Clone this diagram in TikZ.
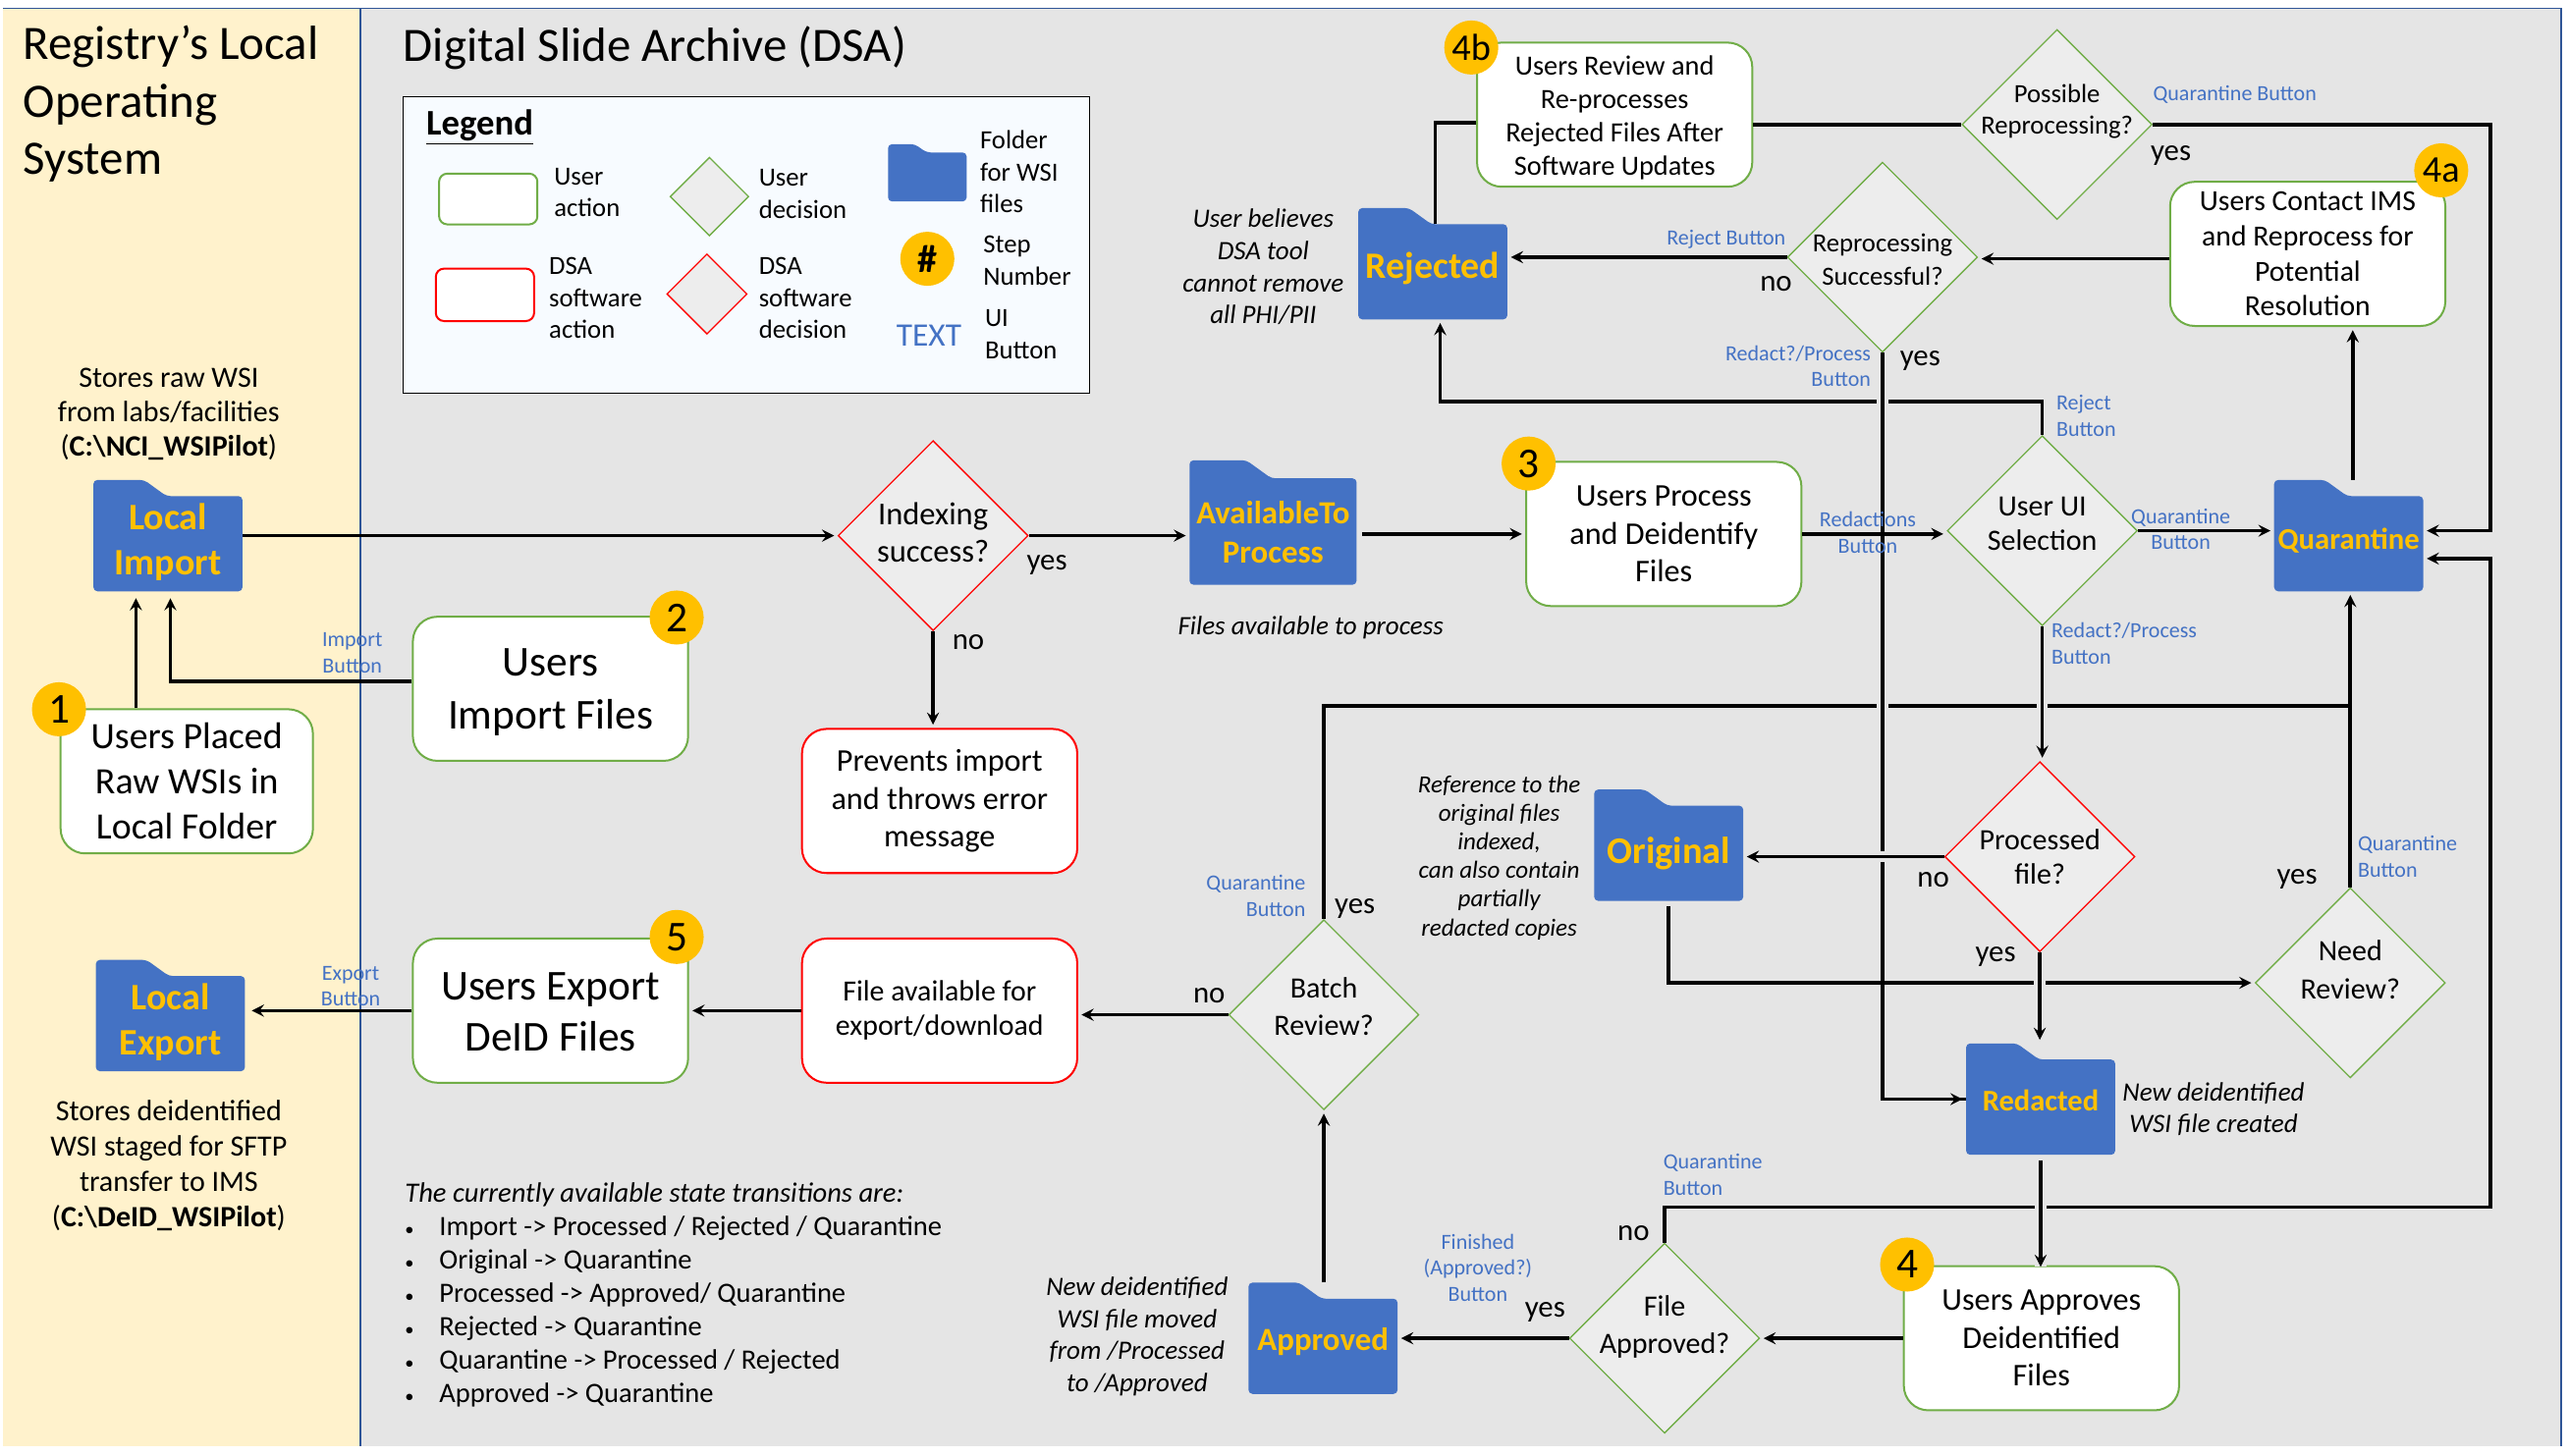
\documentclass[tikz,border=0pt]{standalone}
\usepackage{fontspec}
\setmainfont{Carlito}
\usetikzlibrary{arrows,calc,shapes.geometric}
\definecolor{panelcream}{HTML}{FFF2CC}
\definecolor{panelgrey}{HTML}{E5E5E5}
\definecolor{panelline}{HTML}{2F5597}
\definecolor{folderblue}{HTML}{4472C4}
\definecolor{stepyellow}{HTML}{FFC000}
\definecolor{useredge}{HTML}{70AD47}
\definecolor{diamondfill}{HTML}{EDEDED}
\definecolor{legendfill}{HTML}{F7FBFF}
\newcommand{\fs}[2]{\fontsize{#1}{#2}\selectfont}
\tikzset{
  flow/.style={line width=2.2pt,-stealth,shorten >=2pt},
  plainflow/.style={line width=2.2pt},
  bridge/.style={preaction={draw,-,panelgrey,line width=7pt}},
  useract/.style={draw=useredge,line width=1.2pt,fill=white,rounded corners=15pt,minimum width=168pt,minimum height=88pt,inner sep=0pt,align=center,font=\fs{19.3}{23}},
  dsaact/.style={useract,draw=red},
  userdec/.style={diamond,aspect=1,draw=useredge,line width=.8pt,fill=diamondfill,minimum width=116pt,minimum height=116pt,inner sep=0pt},
  dsadec/.style={userdec,draw=red},
  dectext/.style={font=\fs{18}{23},align=center},
  stepnum/.style={circle,fill=stepyellow,minimum size=33pt,inner sep=0pt,font=\fs{26}{26}},
  btn/.style={text=folderblue,font=\fs{13.2}{16},align=center,inner sep=0pt},
  side/.style={font=\itshape\fs{16.2}{19.5},align=center,inner sep=0pt},
  plaintxt/.style={font=\fs{18}{21},align=center,inner sep=0pt},
  legtxt/.style={font=\fs{16}{19.5},align=left,anchor=west,inner sep=0pt},
  yn/.style={font=\fs{18.5}{20},inner sep=0pt},
  foldertxt/.style={align=center,text=stepyellow,inner sep=0pt},
  folder/.style={minimum width=91pt,minimum height=68pt,inner sep=0pt,
    path picture={
      \coordinate (fa) at (path picture bounding box.north west);
      \coordinate (fb) at (path picture bounding box.south east);
      \coordinate (fc) at ($(fa)!.145!(fa|-fb)$);
      \fill[folderblue,rounded corners=2.5pt] (fa) -- ($(fa)!.34!(fb|-fa)$) -- ($(fc)!.49!(fc-|fb)$) -- (fc-|fb) -- (fb) -- (fa|-fb) -- cycle;
    }},
}
\begin{document}
\begin{tikzpicture}[x=1pt,y=-1pt]
    \useasboundingbox (0,0) rectangle (1568,888.3);
    % panels
    \fill[white] (0,0) rectangle (1568,888.3);
    \fill[panelcream] (2,5) rectangle (220,883);
    \fill[panelgrey] (220,5) rectangle (1563,883);
    \draw[panelline,line width=1pt] (2,5) -- (1563,5) -- (1563,883);
    \draw[panelline,line width=1pt] (220,5) -- (220,883);
    % legend
    \node[draw=black,line width=1pt,fill=legendfill,minimum width=419pt,minimum height=181pt,inner sep=0pt] (legendbox) at (455.5,149.5) {};
    \node[useract,minimum width=60pt,minimum height=31pt,rounded corners=5pt] (leguser) at (298,121.5) {};
    \node[dsaact,minimum width=60pt,minimum height=32pt,rounded corners=5pt] (legdsa) at (296,180) {};
    \node[userdec,minimum width=48pt,minimum height=48pt] (legudec) at (433,120) {};
    \node[dsadec,minimum width=49pt,minimum height=49pt] (legddec) at (431.5,179.5) {};
    \node[folder,minimum width=48pt,minimum height=35pt] (legfolder) at (566,105.5) {};
    \node[stepnum,font=\bfseries\fs{24}{24}] (legstep) at (566,158) {\#};
    % folders
    \node[folder,label={[foldertxt,yshift=-4pt,font=\bfseries\fs{22.8}{28}]center:{Local\\Import}}] (localimport) at (102.5,327) {};
    \node[folder,label={[foldertxt,yshift=-4pt,font=\bfseries\fs{22.8}{28}]center:{Local\\Export}}] (localexport) at (104,620) {};
    \node[folder,minimum width=102pt,minimum height=76pt,label={[foldertxt,yshift=-6pt,font=\bfseries\fs{19.7}{24}]center:{AvailableTo\\Process}}] (available) at (777,319) {};
    \node[folder,label={[foldertxt,yshift=-3pt,font=\bfseries\fs{22.7}{25}]center:{Rejected}}] (rejected) at (874.5,161) {};
    \node[folder,label={[foldertxt,yshift=-3pt,font=\bfseries\fs{18.4}{21}]center:{Quarantine}}] (quarantine) at (1433.5,327) {};
    \node[folder,label={[foldertxt,yshift=-5pt,font=\bfseries\fs{23}{25}]center:{Original}}] (original) at (1018.5,516) {};
    \node[folder,label={[foldertxt,yshift=-1pt,font=\bfseries\fs{18.3}{21}]center:{Redacted}}] (redacted) at (1245.5,671) {};
    \node[folder,label={[foldertxt,yshift=-2pt,font=\bfseries\fs{19.7}{21}]center:{Approved}}] (approved) at (807.5,817) {};
    % action boxes
    \node[useract,minimum width=154pt,font=\fs{22.7}{27.5}] (placed) at (114,477) {Users Placed\\Raw WSIs in\\Local Folder};
    \node[useract,label={[align=center,yshift=-2pt,font=\fs{26}{32}]center:{Users\\Import Files}}] (importfiles) at (336,420.5) {};
    \node[useract,label={[align=center,yshift=-1pt,font=\fs{26}{31}]center:{Users Export\\DeID Files}}] (exportfiles) at (336,617) {};
    \node[useract] (deidentify) at (1015.5,326) {Users Process\\and Deidentify\\Files};
    \node[useract,label={[align=center,yshift=-2pt,font=\fs{17}{20.5}]center:{Users Review and\\Re-processes\\Rejected Files After\\Software Updates}}] (reprocess) at (985.5,70) {};
    \node[useract,font=\fs{17.8}{21.5}] (contactims) at (1408.5,155) {Users Contact IMS\\and Reprocess for\\Potential\\Resolution};
    \node[useract] (approves) at (1246,817) {Users Approves\\Deidentified\\Files};
    \node[dsaact] (prevents) at (573.5,489) {Prevents import\\and throws error\\message};
    \node[dsaact,font=\fs{17.9}{21}] (fileavail) at (573.5,617) {File available for\\export/download};
    % decisions
    \node[dsadec,label={[dectext,yshift=2pt,font=\fs{19.5}{23}]center:{Indexing\\success?}}] (indexing) at (569.5,327) {};
    \node[userdec,label={[dectext,yshift=8pt,font=\fs{16}{19.5}]center:{Possible\\Reprocessing?}}] (possible) at (1255.5,76) {};
    \node[userdec,label={[dectext,yshift=-1.5pt,font=\fs{16}{20}]center:{Reprocessing\\Successful?}}] (successful) at (1149,157) {};
    \node[userdec,label={[dectext,yshift=4pt,font=\fs{18}{21}]center:{User UI\\Selection}}] (uiselect) at (1246.5,324) {};
    \node[dsadec,label={[dectext,font=\fs{18}{21}]center:{Processed\\file?}}] (processed) at (1245,523) {};
    \node[userdec,label={[dectext,yshift=8pt]center:{Need\\Review?}}] (needreview) at (1434.5,600) {};
    \node[userdec,label={[dectext,yshift=5pt]center:{Batch\\Review?}}] (batch) at (808,619.5) {};
    \node[userdec,label={[dectext,yshift=7pt]center:{File\\Approved?}}] (fileapproved) at (1016,817) {};
    % free corners
    \coordinate (qjoin) at (1434,431);
    \coordinate (rightrun) at (1520,323);
    % connectors, order gives the gaps
    \draw[flow] (localimport.east) -- (indexing.west);
    \draw[flow] ([xshift=-31pt]placed.north) -- ([xshift=-19.5pt,yshift=-2pt]localimport.south);
    \draw[flow] ([yshift=4.5pt]importfiles.west) -| ([xshift=1.5pt,yshift=-2pt]localimport.south);
    \draw[flow] (indexing.east) -- (indexing.east -| available.west);
    \draw[flow] (available.east |- deidentify.west) ++(3,0) -- (deidentify.west);
    \draw[flow] (uiselect.north) |- ([xshift=4.5pt]rejected.south |- 0,245) -- ([xshift=4.5pt]rejected.south);
    \draw[plainflow] (batch.north) |- (qjoin);
    \draw[flow] (needreview.north) -- (needreview.north |- quarantine.south);
    \draw[plainflow,bridge] (successful.south) |- (redacted.west);
    \draw[flow] (successful.south |- redacted.west) ++(30,0) -- (redacted.west);
    \draw[flow,bridge] (uiselect.south) -- (uiselect.south |- processed.north);
    \draw[flow] (deidentify.east) -- (deidentify.east -| uiselect.west);
    \draw[flow] (uiselect.east) -- (uiselect.east -| quarantine.west);
    \draw[flow] ([xshift=2.5pt]quarantine.north) -- ([xshift=2.5pt]quarantine.north |- contactims.south);
    \draw[flow] ([yshift=-3pt]contactims.west) -- ([yshift=-3pt]contactims.west -| successful.east);
    \draw[flow] (successful.west) -- (successful.west -| rejected.east);
    \draw[plainflow] ([yshift=-5pt]reprocess.west) -| ([xshift=1.5pt,yshift=-10pt]rejected.north);
    \draw[plainflow] (reprocess.east |- possible.west) -- (possible.west);
    \draw[flow] (possible.east) -- (rightrun |- possible.east) |- (uiselect.east -| quarantine.east);
    \draw[flow] (fileapproved.north) |- (rightrun |- 0,737) |- ([yshift=-14pt]quarantine.east);
    \draw[flow] ([yshift=-3pt]original.south) |- (needreview.west);
    \draw[flow,bridge] (processed.west) -- (processed.west -| original.east);
    \draw[flow,bridge] (processed.south) -- (processed.south |- redacted.north);
    \draw[flow,bridge] ([yshift=-3pt]redacted.south) -- ([yshift=-3pt]redacted.south |- approves.north);
    \draw[flow] (approves.west) -- (approves.west -| fileapproved.east);
    \draw[flow] (fileapproved.west) -- (fileapproved.west -| approved.east);
    \draw[flow] (approved.north -| batch.south) -- (batch.south);
    \draw[flow] (batch.west) -- (batch.west -| fileavail.east);
    \draw[flow] (fileavail.west) -- (fileavail.west -| exportfiles.east);
    \draw[flow,shorten >=4pt] (exportfiles.west) -- (exportfiles.west -| localexport.east);
    \draw[flow] (indexing.south) -- (indexing.south |- prevents.north);
    % step numbers
    \node[stepnum] (stepone) at (36,433) {1};
    \node[stepnum] (steptwo) at (413,377) {2};
    \node[stepnum] (stepthree) at (933,283) {3};
    \node[stepnum] (stepfour) at (1164,772) {4};
    \node[stepnum] (stepfive) at (413,572) {5};
    \node[stepnum,font=\fs{23}{23}] (stepfoura) at (1490,104) {4a};
    \node[stepnum,font=\fs{23}{23}] (stepfourb) at (898,29) {4b};
    % titles
    \node[anchor=west,align=left,inner sep=0pt,font=\fs{29.3}{35}] (regtitle) at (14,63.5) {Registry’s Local\\Operating\\System};
    \node[anchor=west,inner sep=0pt,font=\fs{29.3}{35}] (dsatitle) at (246,29) {Digital Slide Archive (DSA)};
    % legend text
    \node[legtxt,font=\bfseries\fs{22}{24}] (legtitle) at (260,77.5) {\underline{Legend}};
    \node[legtxt] (tuser) at (338,117.5) {User\\action};
    \node[legtxt] (tudec) at (463,118.5) {User\\decision};
    \node[legtxt] (tfolder) at (598,105) {Folder\\for WSI\\files};
    \node[legtxt] (tdsa) at (335,182) {DSA\\software\\action};
    \node[legtxt] (tddec) at (463,182) {DSA\\software\\decision};
    \node[legtxt] (tstep) at (600,159) {Step\\Number};
    \node[legtxt] (tui) at (601,204) {UI\\Button};
    \node[btn,font=\fs{20}{20}] (ttext) at (567,205) {TEXT};
    % left panel text
    \node[plaintxt] (rawnote) at (103,253) {Stores raw WSI\\from labs/facilities\\(\textbf{C:\textbackslash NCI\_WSIPilot})};
    \node[plaintxt,font=\fs{18}{21.5}] (exportnote) at (103,711.5) {Stores deidentified\\WSI staged for SFTP\\transfer to IMS\\(\textbf{C:\textbackslash DeID\_WSIPilot})};
    % ui buttons
    \node[btn] (bimport) at (215,398.5) {Import\\Button};
    \node[btn] (bexport) at (214,602) {Export\\Button};
    \node[btn,anchor=west] (bquartop) at (1314,58) {Quarantine Button};
    \node[btn,anchor=east] (brejtop) at (1090,146) {Reject Button};
    \node[btn,anchor=east,align=right] (bredtop) at (1142,223.5) {Redact?/Process\\Button};
    \node[btn,anchor=west,align=left] (brejmid) at (1255,254) {Reject\\Button};
    \node[btn] (bredaction) at (1140,325) {Redactions\\Button};
    \node[btn] (bquarmid) at (1331,323) {Quarantine\\Button};
    \node[btn,anchor=west,align=left] (bredmid) at (1252,393) {Redact?/Process\\Button};
    \node[btn,anchor=west,align=left] (bquarneed) at (1439,523) {Quarantine\\Button};
    \node[btn,anchor=east,align=right] (bquarbatch) at (797,547) {Quarantine\\Button};
    \node[btn,anchor=west,align=left] (bquarfile) at (1015,717) {Quarantine\\Button};
    \node[btn] (bfinished) at (902,774) {Finished\\(Approved?)\\Button};
    % yes and no
    \node[yn] (yesindex) at (639,345) {yes};
    \node[yn] (noindex) at (591,392) {no};
    \node[yn] (nosucc) at (1084,173) {no};
    \node[yn] (yessucc) at (1172,220) {yes};
    \node[yn] (yesposs) at (1325,95) {yes};
    \node[yn] (noproc) at (1180,537) {no};
    \node[yn] (yesproc) at (1218,584) {yes};
    \node[yn] (yesneed) at (1402,537) {yes};
    \node[yn] (yesbatch) at (827,555) {yes};
    \node[yn] (nobatch) at (738,608) {no};
    \node[yn] (nofile) at (997,753) {no};
    \node[yn] (yesfile) at (943,801) {yes};
    % italic notes
    \node[side] (noterej) at (771,163) {User believes\\DSA tool\\cannot remove\\all PHI/PII};
    \node[side] (noteavail) at (800,383) {Files available to process};
    \node[side,font=\itshape\fs{15}{17.5}] (noteorig) at (915,523.5) {Reference to the\\original files\\indexed,\\can also contain\\partially\\redacted copies};
    \node[side] (noteredact) at (1351,677) {New deidentified\\WSI file created};
    \node[side] (noteappr) at (694,816) {New deidentified\\WSI file moved\\from /Processed\\to /Approved};
    % state list
    \node[anchor=north west,align=left,inner sep=0pt,font=\fs{17.1}{20.4}] (statelist) at (247,722) {\textit{The currently available state transitions are:}\\
      \makebox[21pt][l]{\fs{11}{11}\textbullet}Import -> Processed / Rejected / Quarantine\\
      \makebox[21pt][l]{\fs{11}{11}\textbullet}Original -> Quarantine\\
      \makebox[21pt][l]{\fs{11}{11}\textbullet}Processed -> Approved/ Quarantine\\
      \makebox[21pt][l]{\fs{11}{11}\textbullet}Rejected -> Quarantine\\
      \makebox[21pt][l]{\fs{11}{11}\textbullet}Quarantine -> Processed / Rejected\\
      \makebox[21pt][l]{\fs{11}{11}\textbullet}Approved -> Quarantine};
\end{tikzpicture}
\end{document}
